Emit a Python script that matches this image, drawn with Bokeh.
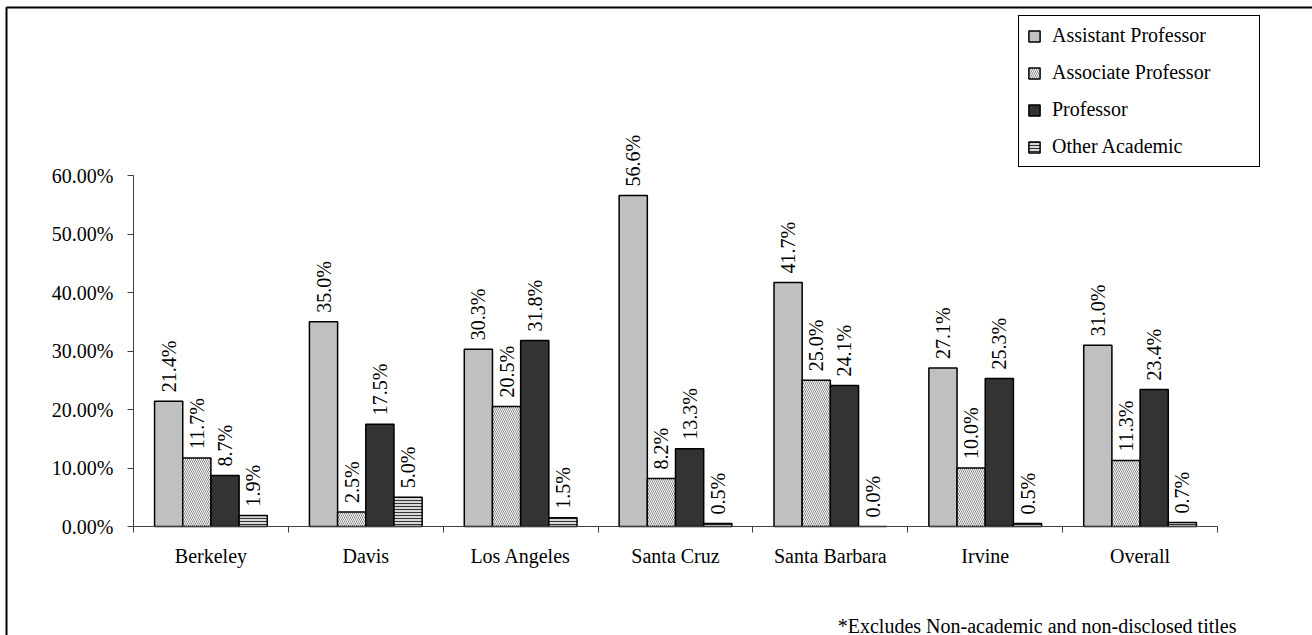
import numpy as np
from bokeh.plotting import figure
from bokeh.models import (ColumnDataSource, Range1d, FixedTicker, NumeralTickFormatter,
                          Label, BoxAnnotation)
from bokeh.transform import dodge
from bokeh.core.properties import value
from bokeh.embed import file_html
from bokeh.resources import INLINE

# ---------------- data ----------------
campuses = ["Berkeley", "Davis", "Los Angeles", "Santa Cruz", "Santa Barbara", "Irvine", "Overall"]
series_names = ["Assistant Professor", "Associate Professor", "Professor", "Other Academic"]
assistant = [21.4, 35.0, 30.3, 56.6, 41.7, 27.1, 31.0]
associate = [11.7, 2.5, 20.5, 8.2, 25.0, 10.0, 11.3]
professor = [8.7, 17.5, 31.8, 13.3, 24.1, 25.3, 23.4]
other = [1.9, 5.0, 1.5, 0.5, 0.0, 0.5, 0.7]
y_ticks = [0.0, 0.1, 0.2, 0.3, 0.4, 0.5, 0.6]
footnote = "*Excludes Non-academic and non-disclosed titles"

FONT = "Liberation Serif"
FS = "20px"

centers = [i + 0.5 for i in range(len(campuses))]
series = [assistant, associate, professor, other]
keys = ["a", "b", "c", "d"]
data = dict(x=centers)
for k, s in zip(keys, series):
    data[k] = [v / 100.0 for v in s]
    data[k + "_lab"] = ["%.1f%%" % v for v in s]
src = ColumnDataSource(data)

# frame covers the whole canvas; axes are pinned inside it
W_PX, H_PX = 1312, 635
X0_PX, XPX = 133.0, 154.86      # page x of category 0, px per category
Y0_PX, YPX = 526.0, 585.0       # page y of 0 %, px per 100 %
x_range = Range1d(-X0_PX / XPX, (W_PX - X0_PX) / XPX)
y_range = Range1d(-(H_PX - Y0_PX) / YPX, Y0_PX / YPX)

p = figure(width=W_PX, height=H_PX, output_backend="svg", toolbar_location=None,
           x_range=x_range, y_range=y_range,
           min_border_left=0, min_border_right=0, min_border_top=0, min_border_bottom=0,
           background_fill_color="white", border_fill_color="white")
p.outline_line_color = None
p.grid.visible = False

W = 0.182
offsets = [-1.5 * W, -0.5 * W, 0.5 * W, 1.5 * W]
styles = [
    dict(fill_color="#C0C0C0"),
    dict(fill_color="white", hatch_pattern="\\", hatch_color="#8A8A8A", hatch_scale=4, hatch_weight=1),
    dict(fill_color="#333333"),
    dict(fill_color="#D8D8D8", hatch_pattern="-", hatch_color="#333333", hatch_scale=3, hatch_weight=1),
]
for k, off, st, name in zip(keys, offsets, styles, series_names):
    p.vbar(x=dodge("x", off, range=p.x_range), top=k, width=W, source=src,
           line_color="black", line_width=1.5, legend_label=name, **st)
    p.text(x=dodge("x", off, range=p.x_range), y=k, text=k + "_lab", source=src,
           angle=np.pi / 2, text_align="left", text_baseline="middle", y_offset=-9,
           text_font=value(FONT), text_font_size=FS, text_color="black")

# y axis
yax = p.yaxis[0]
yax.fixed_location = 0
yax.ticker = FixedTicker(ticks=y_ticks)
yax.formatter = NumeralTickFormatter(format="0.00%")
yax.bounds = (0, 0.6)
yax.axis_line_color = "#404040"
yax.major_tick_line_color = "#404040"
yax.major_tick_out = 6
yax.major_tick_in = 0
yax.minor_tick_line_color = None
yax.major_label_standoff = 14
yax.major_label_text_font = FONT
yax.major_label_text_font_size = FS
yax.major_label_text_color = "black"

# x axis
xax = p.xaxis[0]
xax.fixed_location = 0
xax.bounds = (0, len(campuses))
xax.ticker = FixedTicker(ticks=centers, minor_ticks=list(range(len(campuses) + 1)))
xax.major_label_overrides = {c: name for c, name in zip(centers, campuses)}
xax.axis_line_color = "#404040"
xax.major_tick_line_color = None
xax.major_tick_out = 0
xax.major_tick_in = 0
xax.minor_tick_line_color = "#404040"
xax.minor_tick_out = 6
xax.minor_tick_in = 0
xax.major_label_standoff = 12
xax.major_label_text_font = FONT
xax.major_label_text_font_size = FS
xax.major_label_text_color = "black"

# legend
lg = p.legend[0]
lg.location = (1018, H_PX - 167)
lg.border_line_color = "black"
lg.border_line_width = 1
lg.border_line_alpha = 1
lg.background_fill_color = "white"
lg.background_fill_alpha = 1
lg.padding = 8
lg.margin = 0
lg.spacing = 14
lg.label_height = 20
lg.label_width = 199
lg.glyph_height = 14
lg.glyph_width = 14
lg.label_standoff = 11
lg.label_text_font = FONT
lg.label_text_font_size = FS
lg.label_text_color = "black"

# outer frame
p.add_layout(BoxAnnotation(left=6, right=1400, top=7, bottom=800,
                           left_units="canvas", right_units="canvas",
                           top_units="canvas", bottom_units="canvas",
                           fill_color=None, fill_alpha=0,
                           line_color="black", line_alpha=1, line_width=2))

p.add_layout(Label(x=1236, y=625, x_units="canvas", y_units="canvas", text=footnote,
                   text_align="right", text_baseline="alphabetic",
                   text_font=FONT, text_font_size=FS, text_color="black"))

open("out.html", "w").write(file_html(p, INLINE))
